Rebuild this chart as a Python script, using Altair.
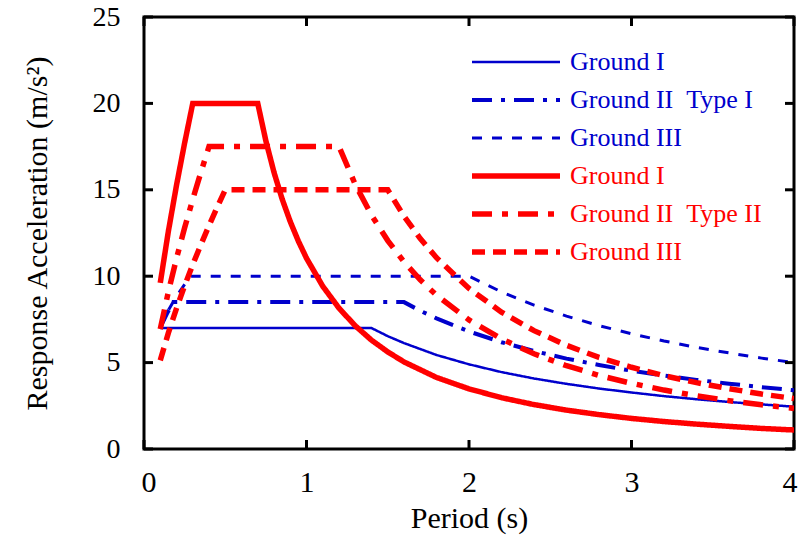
import altair as alt
import pandas as pd

# ---- data ----
series_keys = ["t1g1", "t1g2", "t1g3", "t2g1", "t2g2", "t2g3"]
legend_labels = ["Ground I", "Ground II\u00a0\u00a0Type I", "Ground III",
                 "Ground I", "Ground II\u00a0\u00a0Type II", "Ground III"]

t1g1_T = [0.1, 1.4, 1.5, 1.6, 1.8, 2.0, 2.2, 2.4, 2.6, 2.8, 3.0, 3.2, 3.4, 3.6, 3.8, 4.0]
t1g1_S = [7.0, 7.0, 6.53, 6.13, 5.44, 4.9, 4.45, 4.08, 3.77, 3.5, 3.27, 3.06, 2.88, 2.72, 2.58, 2.45]

t1g2_T = [0.1, 0.12, 0.14, 0.16, 0.18, 1.6, 1.7, 1.8, 2.0, 2.2, 2.4, 2.6, 2.8, 3.0, 3.2, 3.4, 3.6, 3.8, 4.0]
t1g2_S = [7.0, 7.42, 7.81, 8.17, 8.5, 8.5, 8.0, 7.56, 6.8, 6.18, 5.67, 5.23, 4.86, 4.53, 4.25, 4.0, 3.78, 3.58, 3.4]

t1g3_T = [0.1, 0.15, 0.2, 0.25, 0.29, 2.0, 2.2, 2.4, 2.6, 2.8, 3.0, 3.2, 3.4, 3.6, 3.8, 4.0]
t1g3_S = [7.01, 8.03, 8.84, 9.52, 10.0, 10.0, 9.09, 8.33, 7.69, 7.14, 6.67, 6.25, 5.88, 5.56, 5.26, 5.0]

t2g1_T = [0.1, 0.15, 0.2, 0.25, 0.3, 0.7, 0.75, 0.8, 0.85, 0.9, 0.95, 1.0, 1.1, 1.2, 1.3, 1.4, 1.5,
          1.6, 1.8, 2.0, 2.2, 2.4, 2.6, 2.8, 3.0, 3.2, 3.4, 3.6, 3.8, 4.0]
t2g1_S = [9.61, 12.6, 15.26, 17.71, 20.0, 20.0, 17.83, 16.01, 14.47, 13.16, 12.03, 11.04, 9.42, 8.15,
          7.13, 6.3, 5.62, 5.04, 4.14, 3.48, 2.97, 2.57, 2.25, 1.99, 1.77, 1.59, 1.44, 1.31, 1.19, 1.1]

t2g2_T = [0.1, 0.15, 0.2, 0.25, 0.3, 0.35, 0.4, 1.2, 1.3, 1.4, 1.5, 1.6, 1.7, 1.8, 2.0, 2.2, 2.4,
          2.6, 2.8, 3.0, 3.2, 3.4, 3.6, 3.8, 4.0]
t2g2_S = [6.94, 9.1, 11.03, 12.8, 14.45, 16.01, 17.5, 17.5, 15.31, 13.53, 12.06, 10.83, 9.79, 8.9,
          7.47, 6.37, 5.51, 4.82, 4.26, 3.8, 3.41, 3.08, 2.8, 2.56, 2.35]

t2g3_T = [0.1, 0.15, 0.2, 0.25, 0.3, 0.35, 0.4, 0.45, 0.5, 1.5, 1.6, 1.7, 1.8, 2.0, 2.2, 2.4, 2.6,
          2.8, 3.0, 3.2, 3.4, 3.6, 3.8, 4.0]
t2g3_S = [5.13, 6.72, 8.14, 9.45, 10.67, 11.82, 12.93, 13.98, 15.0, 15.0, 13.47, 12.18, 11.07, 9.29,
          7.92, 6.85, 6.0, 5.3, 4.73, 4.24, 3.84, 3.49, 3.18, 2.92]

x_ticks = [0, 1, 2, 3, 4]
y_ticks = [0, 5, 10, 15, 20, 25]

# ---- styles ----
colors = ["#0000CC", "#0000CC", "#0000CC", "#FF0000", "#FF0000", "#FF0000"]
dashes = [[1, 0], [20, 9, 4, 9], [10, 10], [1, 0], [20, 10, 6, 10], [13, 8]]
widths = [2.5, 4, 3, 5.5, 5.5, 5.5]

W, H = 650, 432
FONT = "Liberation Serif"

all_T = [t1g1_T, t1g2_T, t1g3_T, t2g1_T, t2g2_T, t2g3_T]
all_S = [t1g1_S, t1g2_S, t1g3_S, t2g1_S, t2g2_S, t2g3_S]
rows = []
for key, Ts, Ss in zip(series_keys, all_T, all_S):
    for t, s in zip(Ts, Ss):
        rows.append({"series": key, "T": t, "S": s})
df = pd.DataFrame(rows)

x_scale = alt.Scale(domain=[0, 4], nice=False, zero=False)
y_scale = alt.Scale(domain=[0, 25], nice=False)
color_scale = alt.Scale(domain=series_keys, range=colors)
dash_scale = alt.Scale(type="ordinal", domain=series_keys, range=dashes)
width_scale = alt.Scale(type="ordinal", domain=series_keys, range=widths)

color_enc = alt.Color("series:N", scale=color_scale, legend=None)
dash_enc = alt.StrokeDash("series:N", scale=dash_scale, legend=None)
width_enc = alt.StrokeWidth("series:N", scale=width_scale, legend=None)

x_axis = alt.Axis(values=x_ticks, format="d", title="Period (s)", ticks=False, tickSize=0, domain=False,
                  grid=False, labelFlush=True, labelFlushOffset=3, labelPadding=18, titlePadding=6,
                  labelFontSize=30, titleFontSize=30)
y_axis = alt.Axis(values=y_ticks, format="d", title="Response Acceleration (m/s\u00b2)", ticks=False,
                  tickSize=0, domain=False, grid=False, labelFlush=False, labelPadding=24,
                  titlePadding=40, labelFontSize=28, titleFontSize=30)

lines = alt.Chart(df).mark_line(clip=True).encode(
    x=alt.X("T:Q", scale=x_scale, axis=x_axis),
    y=alt.Y("S:Q", scale=y_scale, axis=y_axis),
    color=color_enc,
    strokeDash=dash_enc,
    strokeWidth=width_enc,
    detail="series:N",
)

xt = pd.DataFrame({"T": x_ticks})
yt = pd.DataFrame({"S": y_ticks})
tick_style = dict(color="black", strokeWidth=3)
tb = alt.Chart(xt).mark_rule(**tick_style).encode(
    x=alt.X("T:Q", scale=x_scale), y=alt.value(H), y2=alt.value(H - 9))
tt = alt.Chart(xt).mark_rule(**tick_style).encode(
    x=alt.X("T:Q", scale=x_scale), y=alt.value(0), y2=alt.value(9))
tl = alt.Chart(yt).mark_rule(**tick_style).encode(
    y=alt.Y("S:Q", scale=y_scale), x=alt.value(0), x2=alt.value(9))
tr = alt.Chart(yt).mark_rule(**tick_style).encode(
    y=alt.Y("S:Q", scale=y_scale), x=alt.value(W), x2=alt.value(W - 9))

main = alt.layer(lines, tb, tt, tl, tr)

leg = pd.DataFrame({"series": series_keys, "label": legend_labels, "row": list(range(6))})
leg_y = alt.Y("row:Q", scale=alt.Scale(domain=[0, 5], range=[45, 235]), axis=None)
legend_lines = alt.Chart(leg).mark_rule().encode(
    x=alt.value(328), x2=alt.value(416), y=leg_y,
    color=color_enc, strokeDash=dash_enc, strokeWidth=width_enc,
)
legend_text = alt.Chart(leg).mark_text(align="left", baseline="middle", font=FONT, fontSize=26).encode(
    x=alt.value(426), y=leg_y, text="label:N", color=color_enc,
)
legend = alt.layer(legend_lines, legend_text)

chart = alt.layer(main, legend).resolve_scale(y="independent").properties(
    width=W, height=H,
    autosize=alt.AutoSizeParams(type="none"),
    padding={"left": 136, "top": 9, "right": 5, "bottom": 86},
).configure_view(stroke="black", strokeWidth=3).configure_axis(
    labelFont=FONT, titleFont=FONT, labelColor="black", titleColor="black",
    titleFontWeight="normal",
)

chart.save("out.html", embed_options={"renderer": "svg", "actions": False})
